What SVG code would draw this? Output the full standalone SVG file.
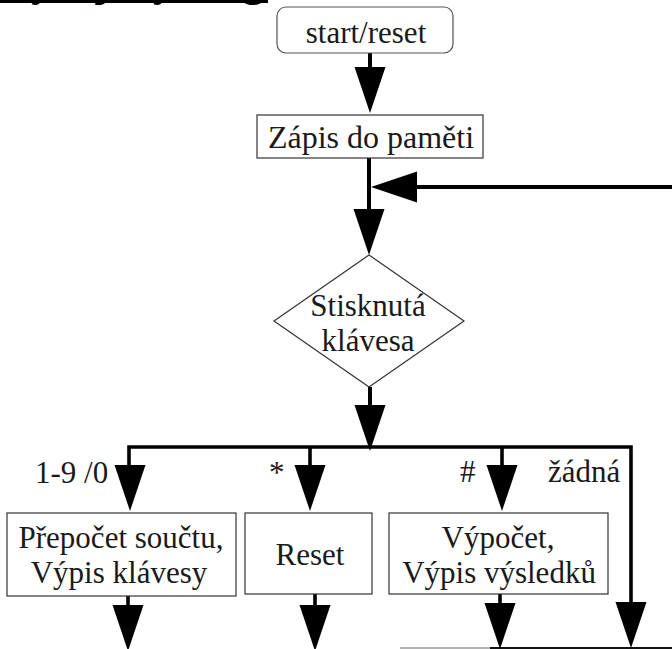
<svg xmlns="http://www.w3.org/2000/svg" xmlns:xlink="http://www.w3.org/1999/xlink" width="672" height="649" viewBox="0 0 672 649">
<style>
.t{font-family:"Liberation Serif","Times New Roman",serif;font-size:31px;fill:#1a1a1a;text-anchor:middle}
.lbl{text-anchor:start}
.box{fill:#fff;stroke:#333;stroke-width:1.2}
.c{fill:none;stroke:#000;stroke-width:4}
.b{stroke-width:3.6}
.ah{fill:#000}
</style>
<defs>
<path id="ah" d="M-15.5,0 L15.5,0 L0,46 Z"/>
</defs>
<rect width="672" height="649" fill="#fff"/>
<g id="heading">
<text x="0" y="-4" style="font-family:'Liberation Serif',serif;font-size:43px;font-weight:bold;fill:#000">Vývojový diagram</text>
<line x1="0" y1="1.5" x2="268" y2="1.5" stroke="#000" stroke-width="3"/>
</g>
<g id="connectors">
<path class="c" d="M370,53 V70"/>
<path class="c" d="M369,158 V212"/>
<path class="c" d="M414,187 H672"/>
<path class="c" d="M370,387 V408"/>
<path class="c b" d="M129,468 V447 H631 V606"/>
<path class="c b" d="M310,447 V468"/>
<path class="c b" d="M502,447 V468"/>
<path class="c b" d="M128,596 V607"/>
<path class="c b" d="M315,594 V607"/>
<path class="c b" d="M500,594 V607"/>
<path d="M400,648 H490" stroke="#999" stroke-width="1.5"/>
<path d="M490,648 H672" stroke="#111" stroke-width="2"/>
<g class="ah">
<use xlink:href="#ah" x="370" y="67"/>
<use xlink:href="#ah" x="369" y="209"/>
<use xlink:href="#ah" x="370" y="405"/>
<use xlink:href="#ah" x="130" y="465"/>
<use xlink:href="#ah" x="310" y="465"/>
<use xlink:href="#ah" x="502" y="465"/>
<use xlink:href="#ah" x="128" y="605"/>
<use xlink:href="#ah" x="315" y="605"/>
<use xlink:href="#ah" x="500" y="603"/>
<use xlink:href="#ah" x="631" y="602"/>
<use xlink:href="#ah" transform="translate(417,187) rotate(90)"/>
</g>
<text class="t lbl" x="35" y="483">1-9 /0</text>
<text class="t lbl" x="269" y="483">*</text>
<text class="t lbl" x="460" y="482">#</text>
<text class="t lbl" x="548" y="482">žádná</text>
</g>
<g id="start">
<rect class="box" x="277" y="7" width="176" height="46" rx="9" style="stroke:#555"/>
<text class="t" x="366" y="43">start/reset</text>
</g>
<g id="zapis">
<rect class="box" x="257" y="115" width="226" height="43"/>
<text class="t" x="371" y="148" style="font-size:32px">Zápis do paměti</text>
</g>
<g id="decision">
<polygon class="box" points="369,255 464,321 369,387 274,321"/>
<text class="t" x="368" y="316">Stisknutá</text>
<text class="t" x="368" y="351">klávesa</text>
</g>
<g id="prepocet">
<rect class="box" x="7" y="513" width="229" height="83"/>
<text class="t" x="121" y="548">Přepočet součtu,</text>
<text class="t" x="119" y="583">Výpis klávesy</text>
</g>
<g id="reset">
<rect class="box" x="245" y="513" width="127" height="81"/>
<text class="t" x="310" y="565">Reset</text>
</g>
<g id="vypocet">
<rect class="box" x="389" y="513" width="219" height="81"/>
<text class="t" x="498" y="548">Výpočet,</text>
<text class="t" x="499" y="583">Výpis výsledků</text>
</g>
</svg>
